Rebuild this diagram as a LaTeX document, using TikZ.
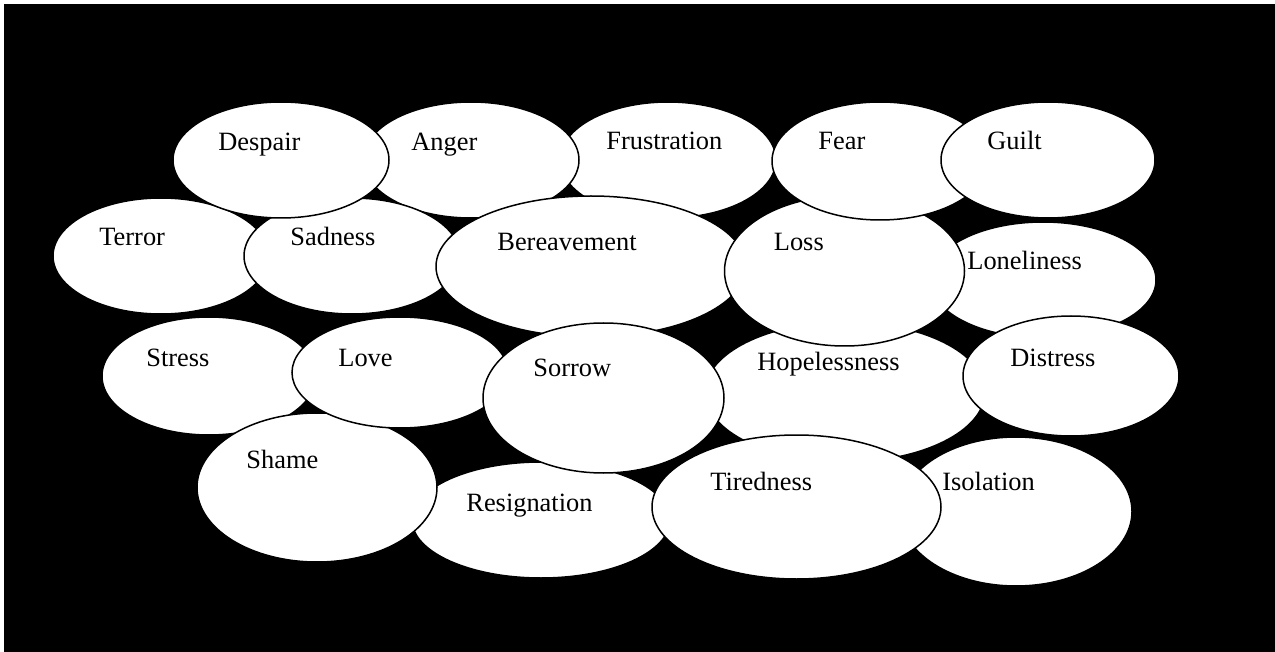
\documentclass[tikz,border=0pt]{standalone}
\usepackage{fontspec}
\setmainfont{Liberation Serif}
\usetikzlibrary{shapes.geometric}

\tikzset{
  bubble/.style={ellipse, draw=black, fill=white, line width=0.75pt, inner sep=0pt},
  word/.style={anchor=base west, inner sep=0pt, font=\fontsize{13.2}{15}\selectfont}
}

\begin{document}
\begin{tikzpicture}[x=0.5pt, y=-0.5pt]

% Frame
\useasboundingbox (0,0) rectangle (1275,652);
\fill[black] (4,4) rectangle (1275,652);

% Top row
\node[bubble, minimum width=108pt, minimum height=58pt] (frustration) at (668,160) {};
\node[word] (frustration-t) at (606,150) {Frustration};
\node[bubble, minimum width=108pt, minimum height=58pt] (anger) at (471,160) {};
\node[word] (anger-t) at (411,151) {Anger};

% Second row, left
\node[bubble, minimum width=108pt, minimum height=58pt] (terror) at (161,256) {};
\node[word] (terror-t) at (99,246) {Terror};
\node[bubble, minimum width=108pt, minimum height=58pt] (sadness) at (352,256) {};
\node[word] (sadness-t) at (290,246) {Sadness};
\node[bubble, minimum width=108pt, minimum height=58pt] (despair) at (281,160) {};
\node[word] (despair-t) at (218,151) {Despair};

% Right side
\node[bubble, minimum width=140pt, minimum height=70pt] (hopelessness) at (845,392) {};
\node[word] (hopelessness-t) at (757,371) {Hopelessness};
\node[bubble, minimum width=113pt, minimum height=58pt] (loneliness) at (1043,280) {};
\node[word] (loneliness-t) at (967,270) {Loneliness};
\node[bubble, minimum width=108pt, minimum height=60pt] (distress) at (1071,376) {};
\node[word] (distress-t) at (1010,366) {Distress};

% Centre
\node[bubble, minimum width=155pt, minimum height=70.5pt] (bereavement) at (591,266.5) {};
\node[word] (bereavement-t) at (497,251) {Bereavement};
\node[bubble, minimum width=120pt, minimum height=75pt] (loss) at (844.5,271) {};
\node[word] (loss-t) at (773.5,251) {Loss};
\node[bubble, minimum width=108pt, minimum height=59pt] (fear) at (880,161) {};
\node[word] (fear-t) at (818,150) {Fear};
\node[bubble, minimum width=107pt, minimum height=58pt] (guilt) at (1048,160) {};
\node[word] (guilt-t) at (987,150) {Guilt};

% Lower rows
\node[bubble, minimum width=107pt, minimum height=59pt] (stress) at (209,376) {};
\node[word] (stress-t) at (146,366) {Stress};
\node[bubble, minimum width=129pt, minimum height=58pt] (resignation) at (541,520) {};
\node[word] (resignation-t) at (466,511) {Resignation};
\node[bubble, minimum width=120pt, minimum height=74.5pt] (shame) at (317,487.5) {};
\node[word] (shame-t) at (246,468) {Shame};
\node[bubble, minimum width=108pt, minimum height=55.5pt] (love) at (400,372.5) {};
\node[word] (love-t) at (338,366) {Love};
\node[bubble, minimum width=120.5pt, minimum height=75pt] (sorrow) at (603.5,398) {};
\node[word] (sorrow-t) at (533,377) {Sorrow};
\node[bubble, minimum width=116pt, minimum height=74.5pt] (isolation) at (1016,511.5) {};
\node[word] (isolation-t) at (942,490) {Isolation};
\node[bubble, minimum width=144.5pt, minimum height=72pt] (tiredness) at (796.5,507) {};
\node[word] (tiredness-t) at (710,490) {Tiredness};

\end{tikzpicture}
\end{document}
